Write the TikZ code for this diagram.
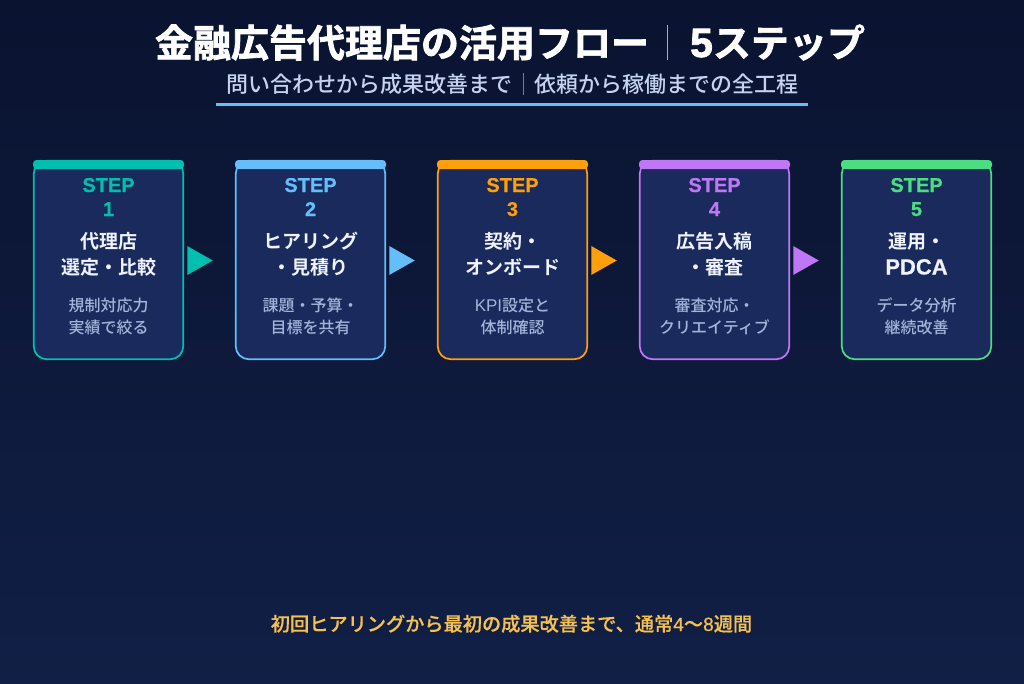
\documentclass[tikz,border=0pt]{standalone}
\usepackage{fontspec}
\setmainfont{Noto Sans CJK JP}[BoldFont={Noto Sans CJK JP Bold}]
\newfontfamily\latb{Liberation Sans Bold}[FakeBold=0.5]
\newfontfamily\latm{Liberation Sans}[FakeBold=0.4]
\newfontfamily\latr{Liberation Sans}
\newfontfamily\titlefont{Noto Sans CJK JP Bold}[FakeBold=1.8]
\newfontfamily\titlelat{Liberation Sans Bold}[FakeBold=1.8]
\newfontfamily\midfont{Noto Sans CJK JP Medium}
\newfontfamily\footfont{Noto Sans CJK JP Medium}[FakeBold=0.4]
\usetikzlibrary{calc}
\definecolor{bgtop}{HTML}{0A1330}
\definecolor{bgbot}{HTML}{111F46}
\definecolor{cardfill}{HTML}{1A2A5C}
\definecolor{cteal}{HTML}{00BFAE}
\definecolor{cblue}{HTML}{64BEFA}
\definecolor{corange}{HTML}{FF9F0A}
\definecolor{cpurple}{HTML}{BF77F6}
\definecolor{cgreen}{HTML}{4ADE80}
\definecolor{subtext}{HTML}{C5D3F0}
\definecolor{desctext}{HTML}{A3B4DA}
\definecolor{foot}{HTML}{F5C04F}
\definecolor{headcol}{HTML}{EEF3FF}
\tikzset{
 txt/.style={anchor=base,inner sep=0pt,outer sep=0pt,align=center},
 titletxt/.style={txt,text=white,font=\titlefont\fontsize{38}{38}\selectfont},
 subtxt/.style={txt,text=subtext,font=\midfont\fontsize{22}{22}\selectfont},
 steptxt/.style={txt,font=\latb\fontsize{20}{20}\selectfont},
 headtxt/.style={txt,text=headcol,font=\bfseries\fontsize{19}{19}\selectfont},
 desctxt/.style={txt,text=desctext,font=\midfont\fontsize{16}{16}\selectfont},
 foottxt/.style={txt,text=foot,font=\footfont\fontsize{19.2}{19.2}\selectfont},
 sepbar/.style={line width=1pt},
 cardbox/.style={rectangle,minimum width=149.5pt,minimum height=198.5pt,inner sep=0pt,outer sep=0pt,anchor=north west,rounded corners=13pt,fill=cardfill,line width=1.7pt},
}
\begin{document}
\begin{tikzpicture}[x=1pt,y=-1pt]
\useasboundingbox (0,0) rectangle (1024,683);
\shade[top color=bgtop,bottom color=bgbot] (0,0) rectangle (1024,683);
% title
\node[titletxt] (t1) at (402,57) {金融広告代理店の活用フロー};
\draw[sepbar,draw=white!65!bgtop] (667.5,25) -- (667.5,60);
\node[titletxt] (t2) at (777.5,57) {{\titlelat\fontsize{41}{41}\selectfont 5}ステップ};
\node[subtxt] (s1) at (369,92) {問い合わせから成果改善まで};
\draw[sepbar,draw=subtext!55!bgtop] (523.5,73) -- (523.5,95);
\node[subtxt] (s2) at (666,92) {依頼から稼働までの全工程};
\coordinate (ula) at (216,104); \coordinate (ulb) at (808,104);
\draw[line width=3pt,draw=cblue] (ula) -- (ulb);
% cards
\foreach \idx/\xx/\col/\heada/\headb/\desca/\descb in {
 1/33/cteal/代理店/選定・比較/規制対応力/実績で絞る,
 2/235/cblue/ヒアリング/・見積り/課題・予算・/目標を共有,
 3/437/corange/契約・/オンボード/{{\latr\fontsize{17}{17}\selectfont KPI}設定と}/体制確認,
 4/639/cpurple/広告入稿/・審査/審査対応・/クリエイティブ,
 5/841/cgreen/運用・/{{\latb\fontsize{22}{22}\selectfont PDCA}}/データ分析/継続改善}{
 \pgfmathsetmacro{\mx}{\xx+75.5}
 \pgfmathsetmacro{\bx}{\xx+0.75}
 \pgfmathsetmacro{\ex}{\xx+151}
 \node[cardbox,draw=\col] (card\idx) at (\bx,160.75) {};
 \fill[\col,rounded corners=3.5pt] (\xx,160) rectangle (\ex,169);
 \node[steptxt,text=\col] (step\idx) at (\mx,192) {STEP};
 \node[steptxt,text=\col] (num\idx) at (\mx,216) {\idx};
 \node[headtxt] (ha\idx) at (\mx,248.5) {\heada};
 \node[headtxt] (hb\idx) at (\mx,274.5) {\headb};
 \node[desctxt] (da\idx) at (\mx,311) {\desca};
 \node[desctxt] (db\idx) at (\mx,333) {\descb};
}
% arrows
\foreach \idx/\col in {1/cteal,2/cblue,3/corange,4/cpurple}{
 \fill[\col] ($(card\idx.east)+(4,-14)$) -- ($(card\idx.east)+(29.5,0.5)$) -- ($(card\idx.east)+(4,15)$) -- cycle;
}
\node[foottxt] (foot) at (511.5,631) {初回ヒアリングから最初の成果改善まで、通常{\latm 4}〜{\latm 8}週間};
\end{tikzpicture}
\end{document}
